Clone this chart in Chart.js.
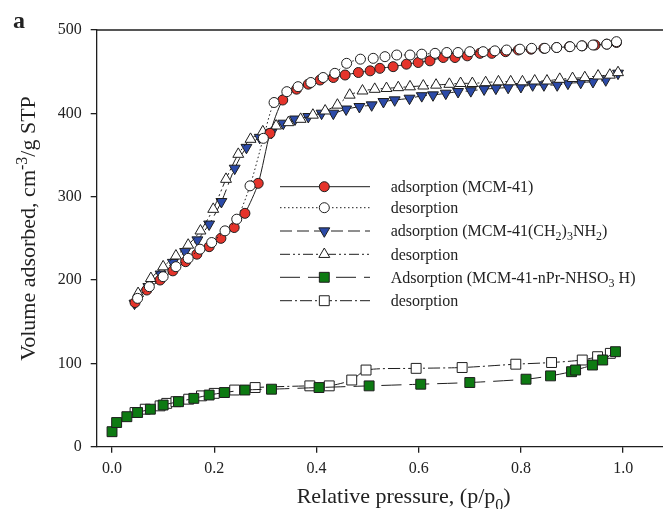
<!DOCTYPE html>
<html>
<head>
<meta charset="utf-8">
<script src="https://cdn.jsdelivr.net/npm/chart.js@4/dist/chart.umd.min.js"></script>
<style>
  html, body { margin: 0; padding: 0; background: #fff; }
  canvas { display: block; }
</style>
</head>
<body>
<canvas id="myChart" width="663" height="509"></canvas>
<script>
// Data
const xTicks = [0.0, 0.2, 0.4, 0.6, 0.8, 1.0]
const yTicks = [0, 100, 200, 300, 400, 500]

// MCM-41 adsorption
const mcmAdsP = [0.045, 0.068, 0.094, 0.119, 0.144, 0.166, 0.190, 0.213, 0.239, 0.260, 0.286, 0.309, 0.334, 0.361, 0.384, 0.407, 0.433, 0.456, 0.482, 0.505, 0.524, 0.550, 0.576, 0.599, 0.622, 0.648, 0.671, 0.695, 0.720, 0.743, 0.770, 0.795, 0.820, 0.845, 0.870, 0.895, 0.920, 0.945, 0.968, 0.987]
const mcmAdsV = [173, 188, 200, 211, 222, 231, 240, 250, 263, 280, 316, 376, 416, 429, 435, 440, 443, 446, 449, 451, 454, 456, 459, 461, 463, 467, 467, 469, 472, 472, 474, 476, 477, 478, 479, 480, 481, 482, 483, 485]
// MCM-41 desorption
const mcmDesP = [0.050, 0.073, 0.100, 0.125, 0.149, 0.172, 0.195, 0.221, 0.244, 0.270, 0.296, 0.317, 0.342, 0.364, 0.389, 0.413, 0.436, 0.459, 0.486, 0.511, 0.534, 0.557, 0.583, 0.606, 0.632, 0.655, 0.677, 0.700, 0.726, 0.749, 0.772, 0.798, 0.821, 0.847, 0.870, 0.896, 0.919, 0.941, 0.968, 0.987]
const mcmDesV = [178, 192, 204, 216, 226, 237, 245, 259, 273, 313, 370, 413, 426, 432, 437, 443, 448, 460, 465, 466, 468, 470, 470, 471, 472, 473, 473, 474, 474, 475, 476, 477, 478, 478, 479, 480, 481, 482, 483, 486]

// MCM-41(CH2)3NH2 adsorption
const amAdsP = [0.044, 0.071, 0.095, 0.119, 0.143, 0.167, 0.190, 0.214, 0.240, 0.263, 0.289, 0.312, 0.335, 0.358, 0.384, 0.410, 0.433, 0.458, 0.484, 0.508, 0.531, 0.553, 0.582, 0.606, 0.628, 0.653, 0.677, 0.702, 0.728, 0.751, 0.775, 0.800, 0.823, 0.845, 0.871, 0.892, 0.917, 0.941, 0.966, 0.990]
const amAdsV = [172, 192, 207, 221, 234, 248, 267, 294, 334, 359, 371, 377, 388, 393, 396, 400, 400, 405, 408, 410, 414, 416, 418, 421, 422, 424, 426, 427, 429, 430, 431, 432, 434, 434, 434, 436, 437, 438, 440, 448]
// MCM-41(CH2)3NH2 desorption
const amDesP = [0.051, 0.076, 0.100, 0.125, 0.149, 0.173, 0.198, 0.223, 0.247, 0.271, 0.295, 0.321, 0.345, 0.369, 0.393, 0.417, 0.441, 0.465, 0.490, 0.514, 0.537, 0.560, 0.583, 0.609, 0.634, 0.660, 0.682, 0.705, 0.731, 0.756, 0.780, 0.803, 0.827, 0.851, 0.876, 0.901, 0.925, 0.951, 0.974, 0.990]
const amDesV = [184, 202, 216, 229, 242, 259, 285, 321, 351, 369, 378, 385, 389, 393, 398, 403, 410, 422, 427, 429, 430, 431, 432, 433, 434, 435, 436, 436, 437, 438, 438, 438, 439, 439, 441, 442, 443, 445, 446, 449]

// MCM-41-nPr-NHSO3H adsorption
const suAdsP = [0.000, 0.009, 0.029, 0.050, 0.075, 0.100, 0.130, 0.160, 0.190, 0.220, 0.260, 0.312, 0.405, 0.503, 0.604, 0.700, 0.810, 0.858, 0.899, 0.907, 0.940, 0.960, 0.985]
const suAdsV = [18, 29, 36, 41, 45, 50, 54, 58, 62, 65, 68, 69, 71, 73, 75, 77, 81, 85, 90, 92, 98, 104, 114]
// MCM-41-nPr-NHSO3H desorption
const suDesP = [0.045, 0.065, 0.094, 0.107, 0.125, 0.150, 0.175, 0.200, 0.240, 0.280, 0.387, 0.425, 0.469, 0.497, 0.595, 0.685, 0.790, 0.860, 0.920, 0.950, 0.975]
const suDesV = [41, 45, 49, 52, 54, 57, 61, 64, 68, 71, 73, 73, 80, 92, 94, 95, 99, 101, 104, 108, 112]

const SERIF = '"Liberation Serif", "Times New Roman", serif'
const INK = '#1e1e1e'

const pts = (xs, ys) => xs.map((x, i) => ({ x: x, y: ys[i] }))

// legend rows: label parts, line dash, marker
const legendRows = [
  { parts: [['adsorption (MCM-41)', 'n']], dash: [], style: 'circle', rot: 0, r: 5, fill: '#e5342b' },
  { parts: [['desorption', 'n']], dash: [1.5, 2.5], style: 'circle', rot: 0, r: 5, fill: '#ffffff' },
  { parts: [['adsorption (MCM-41(CH', 'n'], ['2', 'sub'], [')', 'n'], ['3', 'sub'], ['NH', 'n'], ['2', 'sub'], [')', 'n']], dash: [12, 5], style: 'triangle', rot: 180, r: 6.3, fill: '#2b4aa8' },
  { parts: [['desorption', 'n']], dash: [10, 3, 2, 3, 2, 3], style: 'triangle', rot: 0, r: 6.3, fill: '#ffffff' },
  { parts: [['Adsorption (MCM-41-nPr-NHSO', 'n'], ['3', 'sub'], [' H)', 'n']], dash: [20, 8], style: 'rect', rot: 0, r: 7, fill: '#0d7a12' },
  { parts: [['desorption', 'n']], dash: [12, 3, 2, 3], style: 'rect', rot: 0, r: 7, fill: '#ffffff' }
]

function richText(ctx, parts, x, y, size, align) {
  const fontOf = m => (m === 'n' ? size : Math.round(size * 0.72)) + 'px ' + SERIF
  let total = 0
  parts.forEach(p => { ctx.font = fontOf(p[1]); total += ctx.measureText(p[0]).width })
  let cx = align === 'center' ? x - total / 2 : x
  ctx.textAlign = 'left'
  parts.forEach(p => {
    ctx.font = fontOf(p[1])
    const dy = p[1] === 'sub' ? size * 0.32 : p[1] === 'sup' ? -size * 0.38 : 0
    ctx.fillText(p[0], cx, y + dy)
    cx += ctx.measureText(p[0]).width
  })
}

function ds(label, data, row, order) {
  return {
    label: label,
    data: data,
    showLine: true,
    tension: 0.25,
    borderColor: INK,
    borderWidth: 1,
    borderDash: row.dash,
    pointStyle: row.style,
    rotation: row.rot,
    pointRadius: row.r,
    pointHoverRadius: row.r,
    pointBackgroundColor: row.fill,
    pointBorderColor: INK,
    pointBorderWidth: 1,
    order: order
  }
}

const extras = {
  id: 'extras',
  afterDraw(chart) {
    const ctx = chart.ctx
    const a = chart.chartArea
    ctx.save()
    // top frame line
    ctx.strokeStyle = INK
    ctx.lineWidth = 1.3
    ctx.beginPath()
    ctx.moveTo(a.left, a.top)
    ctx.lineTo(663, a.top)
    ctx.stroke()

    ctx.fillStyle = '#222'
    ctx.textBaseline = 'alphabetic'
    // panel letter
    ctx.font = 'bold 24px ' + SERIF
    ctx.textAlign = 'left'
    ctx.fillText('a', 13, 28)

    // axis titles
    richText(ctx, [['Relative pressure, (p/p', 'n'], ['0', 'sub'], [')', 'n']], 296.7, 503, 22, 'left')
    ctx.save()
    ctx.translate(35, 228.5)
    ctx.rotate(-Math.PI / 2)
    richText(ctx, [['Volume adsorbed, cm', 'n'], ['-3', 'sup'], ['/g STP', 'n']], 0, 0, 22, 'center')
    ctx.restore()

    // legend
    const rowY = [186.7, 207.7, 231, 254.3, 277.3, 300.7]
    legendRows.forEach((row, i) => {
      const y = rowY[i]
      ctx.strokeStyle = INK
      ctx.lineWidth = 1
      ctx.setLineDash(row.dash)
      ctx.beginPath()
      ctx.moveTo(280, y)
      ctx.lineTo(370, y)
      ctx.stroke()
      ctx.setLineDash([])
      ctx.fillStyle = row.fill
      ctx.strokeStyle = INK
      Chart.helpers.drawPoint(ctx, { pointStyle: row.style, radius: row.r, rotation: row.rot, borderWidth: 1 }, 324.3, y)
      ctx.fillStyle = '#222'
      ctx.textBaseline = 'middle'
      richText(ctx, row.parts, 390.7, y + 1, 16, 'left')
    })
    ctx.restore()
  }
}

const axisFont = { family: SERIF, size: 16 }

let ctx = document.getElementById('myChart').getContext('2d')
let chart = new Chart(ctx, {
  type: 'scatter',
  data: {
    datasets: [
      ds('adsorption (MCM-41)', pts(mcmAdsP, mcmAdsV), legendRows[0], 2),
      ds('desorption MCM-41', pts(mcmDesP, mcmDesV), legendRows[1], 1),
      ds('adsorption (MCM-41(CH2)3NH2)', pts(amAdsP, amAdsV), legendRows[2], 4),
      ds('desorption amine', pts(amDesP, amDesV), legendRows[3], 3),
      ds('Adsorption (MCM-41-nPr-NHSO3 H)', pts(suAdsP, suAdsV), legendRows[4], 5),
      ds('desorption sulfonic', pts(suDesP, suDesV), legendRows[5], 6)
    ]
  },
  options: {
    responsive: false,
    animation: false,
    events: [],
    layout: { autoPadding: false, padding: { top: 30, right: 0, left: 0, bottom: 0 } },
    plugins: { legend: { display: false }, tooltip: { enabled: false } },
    scales: {
      x: {
        type: 'linear',
        min: -0.03,
        max: 1.078,
        afterBuildTicks: s => { s.ticks = xTicks.map(v => ({ value: v })) },
        afterFit: s => { s.height = 509 - 446.7; s.paddingLeft = 0; s.paddingRight = 0 },
        ticks: { color: '#222', font: axisFont, padding: 6, callback: v => v.toFixed(1) },
        grid: { display: true, drawOnChartArea: false, drawTicks: true, tickLength: 6, color: INK, lineWidth: 1.3 },
        border: { display: true, color: INK, width: 1.3 }
      },
      y: {
        min: 0,
        max: 500,
        afterBuildTicks: s => { s.ticks = yTicks.map(v => ({ value: v })) },
        afterFit: s => { s.width = 96.7; s.paddingTop = 0; s.paddingBottom = 0 },
        ticks: { color: '#222', font: axisFont, padding: 9 },
        grid: { display: true, drawOnChartArea: false, drawTicks: true, tickLength: 6, color: INK, lineWidth: 1.3 },
        border: { display: true, color: INK, width: 1.3 }
      }
    }
  },
  plugins: [extras]
})
</script>
</body>
</html>
